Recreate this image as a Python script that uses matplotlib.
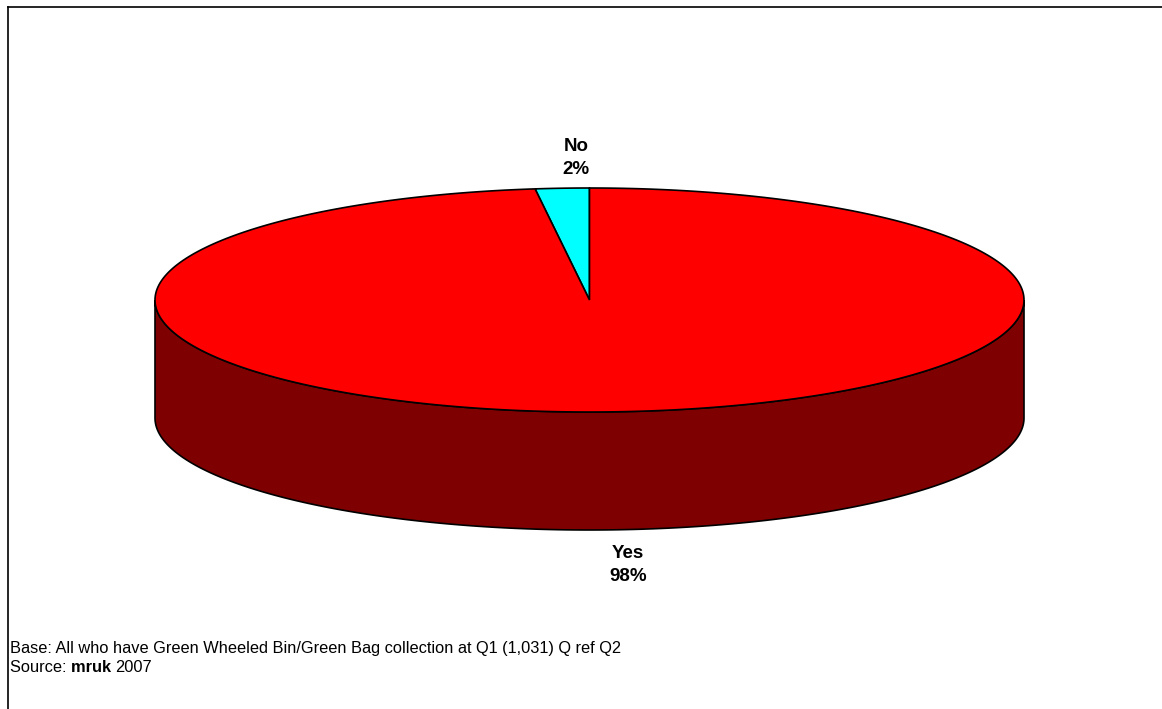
import numpy as np
import matplotlib.pyplot as plt
from matplotlib.patches import Polygon

labels = ['No', 'Yes']
values = [2, 98]
top_colors = ['#00FFFF', '#FF0000']
side_colors = ['#007F7F', '#7F0000']

plt.rcParams['font.family'] = ['Liberation Sans', 'DejaVu Sans']

fig = plt.figure(figsize=(11.62, 7.09), dpi=100)
ax = fig.add_axes([0, 0, 1, 1])
ax.set_xlim(0, 1162)
ax.set_ylim(709, 0)
ax.axis('off')

# ellipse geometry (pixel-like units)
cx, cy = 589.5, 300
a, b = 434.5, 112
depth = 118


def pt(theta, dy=0):
    return cx + a * np.cos(theta), cy - b * np.sin(theta) + dy


total = float(sum(values))
start = 90.0
for lab, v, ctop, cside in zip(labels, values, top_colors, side_colors):
    span = 360.0 * v / total
    t0, t1 = start, start + span
    # side wall: front part of the slice (180..360 deg)
    for off in (0, 360):
        s0, s1 = max(t0, 180 + off), min(t1, 360 + off)
        if s1 > s0:
            th = np.radians(np.linspace(s0, s1, 200))
            xs, ys = pt(th)
            xb, yb = pt(th[::-1], depth)
            poly = np.column_stack([np.concatenate([xs, xb]),
                                    np.concatenate([ys, yb])])
            ax.add_patch(Polygon(poly, closed=True, facecolor=cside,
                                 edgecolor='black', lw=1.2, zorder=1))
    th = np.radians(np.linspace(t0, t1, 400))
    xs, ys = pt(th)
    poly = np.column_stack([np.concatenate([[cx], xs]),
                            np.concatenate([[cy], ys])])
    ax.add_patch(Polygon(poly, closed=True, facecolor=ctop,
                         edgecolor='black', lw=1.2, zorder=2))
    start = t1

# labels
ax.text(576, 158, 'No\n2%', ha='center', va='center', fontsize=13.5,
        fontweight='bold', linespacing=1.42)
ax.text(628, 565, 'Yes\n98%', ha='center', va='center', fontsize=13.5,
        fontweight='bold', linespacing=1.42)

# footnote
fs = 11.8
ax.text(10, 649, 'Base: All who have Green Wheeled Bin/Green Bag collection at Q1 (1,031) Q ref Q2',
        ha='left', va='center', fontsize=fs)
renderer = fig.canvas.get_renderer()
x = 10
for part, w in [('Source: ', 'normal'), ('mruk ', 'bold'), ('2007', 'normal')]:
    t = ax.text(x, 667, part, ha='left', va='center', fontsize=fs, fontweight=w)
    x += t.get_window_extent(renderer).width

# frame (top and left edges only)
ax.plot([7.5, 1162], [6.5, 6.5], color='black', lw=1.2)
ax.plot([7.5, 7.5], [6.5, 709], color='black', lw=1.2)

fig.savefig('out.png', dpi=100)
